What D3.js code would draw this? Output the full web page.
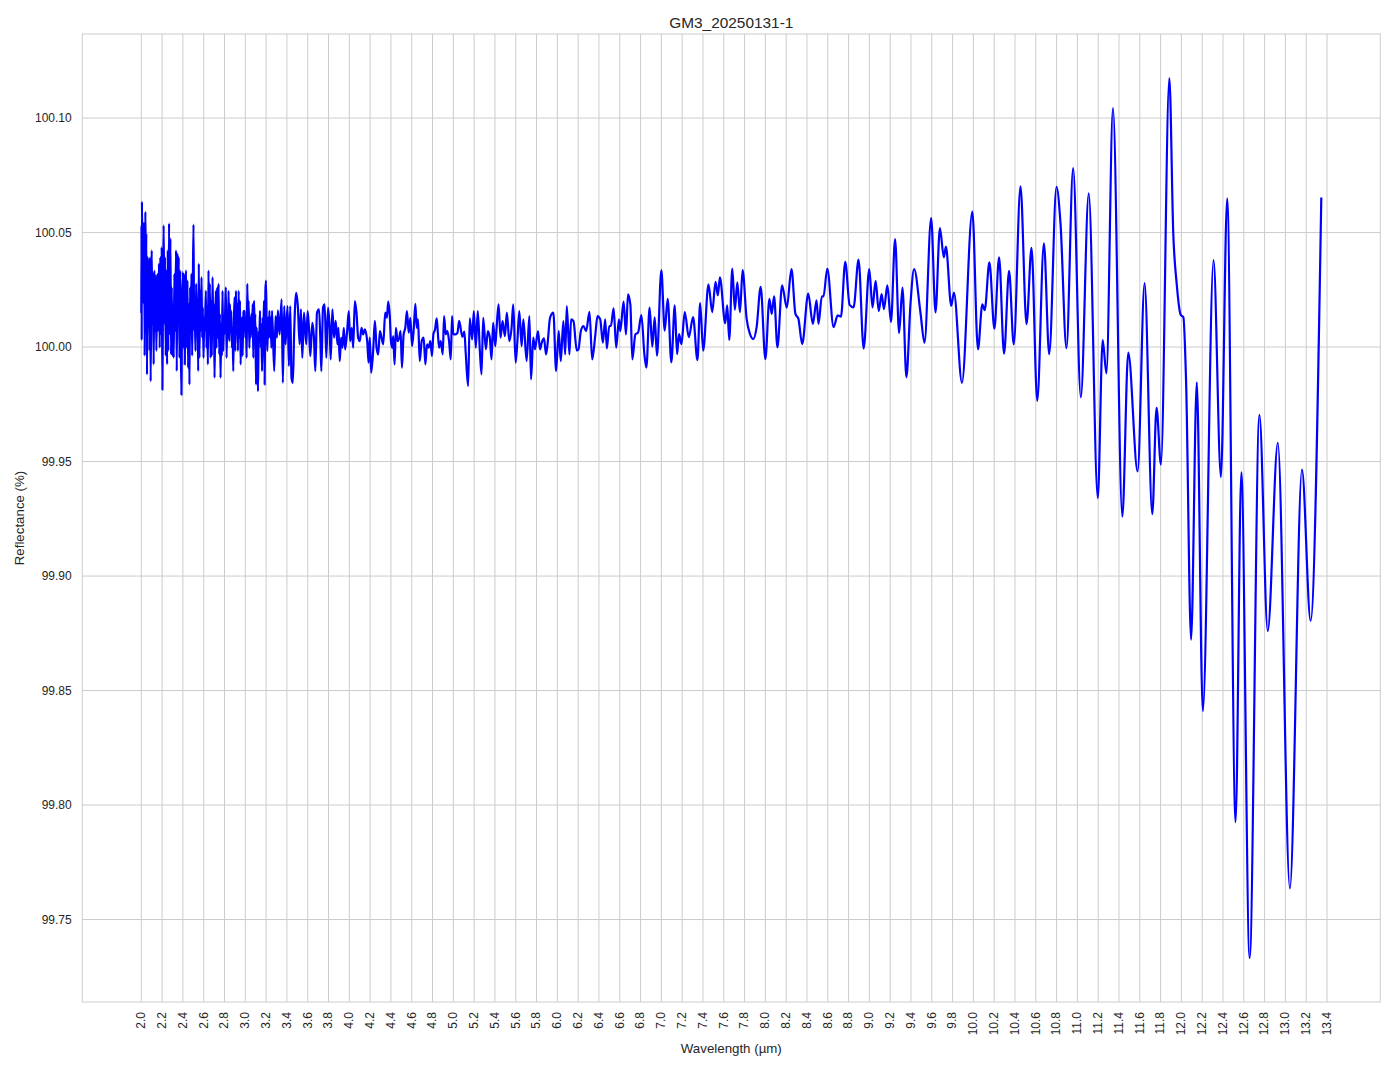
<!DOCTYPE html>
<html><head><meta charset="utf-8">
<script src="https://cdn.jsdelivr.net/npm/d3@7"></script>
<style>
body{margin:0;background:#fff}
svg{display:block}
text{font-family:"Liberation Sans",Arial,sans-serif;fill:#262626}
</style>
</head><body>
<svg id="chart" width="1394" height="1069"></svg>
<script>
const chartTitle = "GM3_20250131-1";
const xLabel = "Wavelength (µm)";
const yLabel = "Reflectance (%)";

const wlA = [2.000,2.002,2.004,2.006,2.013,2.016,2.022,2.029,2.032,2.039,2.045,2.048,2.055,2.061,2.068,2.074,2.080,2.084,2.090,2.100,2.106,2.113,2.119,2.125,2.132,2.138,2.145,2.154,2.161,2.170,2.177,2.183,2.190,2.196,2.203,2.209,2.215,2.222,2.228,2.235,2.241,2.248,2.254,2.260,2.267,2.273,2.280,2.286,2.293,2.299,2.305,2.312,2.318,2.325,2.334,2.341,2.347,2.354,2.360,2.367,2.373,2.379,2.386,2.392,2.399,2.405];
const rfA = [100.015,100.053,100.003,100.0635,100.0334,100.0547,100.0188,100.054,99.9962,100.0591,100.032,100.0496,99.988,100.0393,100.0202,100.0378,99.9983,100.0393,99.985,100.0422,100.010,100.032,99.9924,100.0334,100.0071,100.0312,99.9983,100.032,100.0071,100.0364,99.9997,100.0393,100.0056,100.0437,99.9814,100.0246,100.0532,100.010,100.0393,99.9962,100.0334,99.9924,100.0422,99.9983,100.054,100.0056,100.0474,99.9968,100.0261,99.9962,100.0129,99.9953,100.032,100.0071,100.0422,99.9895,100.0408,100.0129,100.0393,99.9953,100.0334,100.0056,99.9792,100.0158,100.0327,99.9997];

const wlB = [2.412,2.418,2.424,2.431,2.437,2.444,2.450,2.457,2.463,2.469,2.476,2.482,2.489,2.495,2.502,2.508,2.514,2.521,2.527,2.534,2.540,2.547,2.553,2.559,2.566,2.572,2.579,2.585,2.592,2.598,2.605,2.611,2.621,2.627,2.633,2.640,2.646,2.653,2.659,2.666,2.672,2.678,2.685,2.691,2.698,2.704,2.711,2.717,2.723,2.730,2.736,2.743,2.749,2.756,2.762,2.768,2.775,2.781,2.788,2.794,2.800,2.807,2.813,2.820,2.826,2.833,2.839,2.846,2.852,2.859,2.865,2.871,2.878,2.884,2.891,2.897,2.904,2.910,2.916,2.923,2.929,2.936,2.942,2.949,2.955,2.961,2.968,2.974,2.981,2.987,2.994,3.000,3.006,3.013,3.019,3.026,3.032,3.039,3.045,3.051,3.058,3.064,3.071,3.077,3.084,3.090,3.096,3.103,3.109,3.116,3.122,3.129,3.135,3.141,3.148,3.154,3.161,3.167,3.174,3.180,3.186,3.193,3.199,3.206,3.212,3.219,3.225,3.232,3.238,3.244,3.251,3.257];
const rfB = [100.032,99.9924,100.0246,100.0334,99.9997,100.029,99.9909,100.0188,99.9836,100.0261,100.0071,100.032,99.9962,100.0246,100.0535,100.0071,100.0173,99.9983,100.0276,100.010,100.0188,99.9895,100.0364,99.9953,100.0246,100.0071,100.0305,100.0041,100.0173,99.9953,100.0129,100.0071,100.0246,99.9997,100.0173,99.9924,100.0334,100.0056,100.0276,99.9953,100.0202,99.9962,100.0305,100.010,100.0188,99.9866,100.0129,100.0246,99.9997,100.0261,100.0041,100.0276,99.9968,100.0144,99.9866,100.010,99.9962,100.0246,99.9983,100.0129,100.0056,100.0173,100.0261,99.9953,100.0129,100.0041,100.0246,100.0026,100.0188,100.0071,100.0158,99.9997,100.0085,99.9895,100.0129,100.0217,99.9983,100.0246,100.0071,100.0188,99.9983,100.0246,100.0041,100.0202,99.9924,100.0071,100.0129,99.9962,100.0158,100.010,100.0158,100.0041,100.0114,99.9953,100.0276,100.0071,100.0202,99.9997,100.0129,100.0041,100.0144,100.0056,100.0188,99.9953,100.0202,100.0071,100.0144,99.9836,100.0085,99.9962,99.9807,100.0071,100.0041,100.0158,99.9997,100.010,99.9895,100.0129,100.0071,100.0202,99.9836,100.0246,100.029,100.0071,99.9983,100.0129,100.0041,100.0158,100.0041,100.0129,99.9997,100.0158];

const wlC = [3.278,3.291,3.304,3.313,3.330,3.349,3.361,3.374,3.387,3.406,3.419,3.432,3.444,3.457,3.470,3.489,3.506,3.522,3.535,3.548,3.564,3.586,3.599,3.612,3.625,3.644,3.660,3.673,3.689,3.709,3.722,3.731,3.747,3.763,3.779,3.795,3.812,3.821,3.837,3.853,3.869,3.886,3.895,3.908,3.921,3.934,3.947,3.960,3.979,3.995,4.008,4.024,4.037,4.053,4.069,4.085,4.101,4.117,4.133,4.149,4.172,4.185,4.197,4.210,4.230,4.246,4.262,4.278,4.294,4.310,4.326,4.345,4.361,4.374,4.390,4.400,4.413,4.422,4.435,4.448,4.464,4.480,4.493,4.506,4.522,4.538,4.554,4.571,4.587,4.603,4.619,4.635,4.648,4.660,4.677,4.696,4.715,4.731,4.747,4.763,4.779,4.795,4.808,4.824,4.840,4.850,4.863,4.879,4.898,4.911,4.927,4.943,4.959,4.975,4.988,5.000,5.020,5.040,5.056];
const rfC = [99.9895,100.0135,100.0041,100.016,100.0055,100.0208,99.9844,100.0179,100.0012,100.0179,99.9917,100.0179,99.9866,99.9844,100.007,100.0237,100.0172,100.0012,100.0165,99.9953,100.015,100.0012,100.0157,100.0084,99.9961,100.0106,100.0041,99.9895,100.015,100.0165,100.0026,99.9895,100.0172,100.0186,99.9953,100.0172,100.007,99.9946,100.0165,100.0041,100.0114,100.0012,100.0084,99.9939,100.0041,99.9997,100.0084,99.999,100.007,100.0157,100.0026,100.0084,99.9997,100.0201,100.015,100.0041,100.0026,100.0084,100.0055,100.0077,100.0026,99.9932,100.0041,99.9888,99.999,100.0114,99.9997,99.9968,100.007,100.0041,100.0012,100.015,100.0128,100.0198,100.0128,100.0026,99.9997,100.0048,99.9924,100.0084,100.0026,100.0041,100.007,99.991,100.0055,100.0084,100.0157,100.0063,100.0128,100.0004,100.0077,100.0189,100.0084,100.0121,99.9939,100.0026,100.0041,99.9924,100.0012,99.9997,100.0026,99.9961,100.0055,100.0077,100.0125,100.007,99.9997,100.0026,99.9968,100.0135,100.0055,100.007,100.0026,99.9946,100.0135,100.0055,100.0055,100.0063,100.0114];

const wlD = [5.087,5.106,5.119,5.142,5.158,5.181,5.197,5.216,5.235,5.255,5.271,5.287,5.313,5.332,5.351,5.367,5.383,5.403,5.415,5.435,5.454,5.473,5.496,5.515,5.538,5.560,5.576,5.599,5.615,5.634,5.657,5.673,5.705,5.731,5.747,5.769,5.785,5.814,5.833,5.850,5.872,5.891,5.904,5.930,5.962,5.988,6.013,6.033,6.058,6.075,6.091,6.116,6.132,6.155,6.187,6.203,6.226,6.251,6.277,6.309,6.335,6.364,6.386,6.412,6.438,6.460,6.476,6.499,6.515,6.541,6.566,6.592,6.605,6.637,6.660,6.679,6.702,6.721,6.750,6.776,6.808,6.837,6.856];
const rfD = [100.0044,100.0067,99.9975,99.983,100.0125,100.0033,100.0157,99.9997,100.0157,99.9983,99.9881,100.0128,99.999,100.007,100.0041,99.9946,100.0106,100.0004,100.0077,100.0186,100.0041,100.0113,100.0048,100.015,100.0026,100.0084,100.0186,99.9932,100.0019,100.0157,100.0004,100.0121,99.9939,100.0135,99.9859,100.0041,99.999,100.007,99.999,100.0019,100.0038,99.9968,100.0004,100.0128,100.015,99.9895,100.007,99.9939,100.0113,99.9968,100.0179,99.9968,100.0121,100.0113,99.9985,99.999,100.007,100.0092,100.007,100.0154,99.9946,100.0048,100.0135,100.0121,100.0019,100.0121,99.9994,100.0092,100.0092,100.0169,99.9997,100.0121,100.007,100.0198,100.0055,100.023,100.0186,99.9946,100.0055,100.0063,100.014,99.9968,99.991];

const wlE = [6.887,6.913,6.936,6.958,7.000,7.032,7.061,7.096,7.129,7.151,7.170,7.193,7.225,7.264,7.305,7.347,7.373,7.402,7.453,7.489,7.521,7.543,7.563,7.614,7.633,7.653,7.682,7.707,7.730,7.756,7.781,7.820,7.852,7.884,7.916,7.955,8.000,8.039,8.061,8.084,8.116,8.161,8.206,8.251,8.289,8.318,8.354,8.412,8.457,8.492,8.511,8.543,8.559,8.595,8.656,8.695,8.727,8.768];
const rfE = [100.0172,100.0002,100.013,99.9962,100.0336,100.0072,100.0211,99.9933,100.0182,99.9969,100.0057,100.0013,100.0153,100.0043,100.0131,99.9943,100.0192,99.9984,100.0274,100.0153,100.0285,100.0226,100.0304,100.0104,100.0182,100.0031,100.0343,100.0163,100.0283,100.0153,100.0336,100.0123,100.0057,100.0035,100.0087,100.0263,99.9947,100.0211,100.0145,100.0221,99.9999,100.027,100.0172,100.034,100.0145,100.0123,100.0013,100.0233,100.0101,100.0204,100.0101,100.0221,100.0221,100.0343,100.0087,100.0138,100.0133,100.0372];

const wlF = [8.810,8.848,8.896,8.945,8.999,9.030,9.060,9.090,9.118,9.140,9.173,9.208,9.247,9.286,9.318,9.356,9.395,9.430,9.491,9.530,9.594,9.636,9.678,9.716,9.736,9.787,9.813,9.890,9.990,10.044,10.086,10.109,10.154,10.202,10.247,10.295,10.343,10.388,10.453,10.511,10.559,10.614];
const rfF = [100.0184,100.0173,100.0382,99.9993,100.0341,100.0173,100.0289,100.0158,100.0231,100.0165,100.027,100.011,100.0472,100.0061,100.026,99.9868,100.0187,100.0341,100.0151,100.0019,100.0563,100.0151,100.052,100.0392,100.0439,100.018,100.0238,99.9844,100.0592,99.999,100.0187,100.0161,100.037,100.008,100.0392,99.9971,100.0333,100.0012,100.0702,100.010,100.0433,99.9765];

const wlG = [10.678,10.729,10.799,10.838,10.895,10.959,11.033,11.109,11.196,11.243,11.279,11.342,11.432,11.489,11.579,11.646,11.720,11.761,11.803,11.884,11.922,11.955,11.993,12.019,12.045,12.093,12.148,12.206,12.309,12.380,12.440,12.521,12.576,12.656,12.750,12.830,12.927,13.043,13.159,13.242,13.345];
const rfG = [100.0453,99.9969,100.070,100.0537,99.9995,100.0782,99.978,100.0671,99.934,100.003,99.9885,100.1044,99.9259,99.9976,99.9457,100.0279,99.927,99.9734,99.9487,100.1175,100.0493,100.0275,100.0141,100.013,99.985,99.8722,99.9846,99.841,100.038,99.9432,100.0649,99.7925,99.9453,99.7332,99.9704,99.876,99.9582,99.7636,99.9465,99.8805,100.0653];

const xTickLabels = ["2.0","2.2","2.4","2.6","2.8","3.0","3.2","3.4","3.6","3.8","4.0","4.2","4.4","4.6","4.8","5.0","5.2","5.4","5.6","5.8","6.0","6.2","6.4","6.6","6.8","7.0","7.2","7.4","7.6","7.8","8.0","8.2","8.4","8.6","8.8","9.0","9.2","9.4","9.6","9.8","10.0","10.2","10.4","10.6","10.8","11.0","11.2","11.4","11.6","11.8","12.0","12.2","12.4","12.6","12.8","13.0","13.2","13.4"];
const yTickLabels = ["99.75","99.80","99.85","99.90","99.95","100.00","100.05","100.10"];

const wavelength = [].concat(wlA, wlB, wlC, wlD, wlE, wlF, wlG);
const reflectance = [].concat(rfA, rfB, rfC, rfD, rfE, rfF, rfG);
const data = wavelength.map((w, i) => ({x: w, y: reflectance[i]}));

const W = 1394, H = 1069;
const plot = {left: 82.3, top: 34, right: 1380.3, bottom: 1002};

function padded(ext) { const p = (ext[1] - ext[0]) * 0.05; return [ext[0] - p, ext[1] + p]; }
const x = d3.scaleLinear().domain(padded(d3.extent(wavelength))).range([plot.left, plot.right]);
const y = d3.scaleLinear().domain(padded(d3.extent(reflectance))).range([plot.bottom, plot.top]);

const svg = d3.select("#chart");
svg.append("rect").attr("width", W).attr("height", H).attr("fill", "#fff");

const xTicks = xTickLabels.map(Number);
const yTicks = yTickLabels.map(Number);

// grid
const grid = svg.append("g").attr("stroke", "#cccccc").attr("stroke-width", 1);
grid.selectAll("line.v").data(xTicks).join("line").attr("class", "v")
  .attr("x1", d => x(d)).attr("x2", d => x(d)).attr("y1", plot.top).attr("y2", plot.bottom);
grid.selectAll("line.h").data(yTicks).join("line").attr("class", "h")
  .attr("y1", d => y(d)).attr("y2", d => y(d)).attr("x1", plot.left).attr("x2", plot.right);

// frame
svg.append("rect").attr("x", plot.left).attr("y", plot.top)
  .attr("width", plot.right - plot.left).attr("height", plot.bottom - plot.top)
  .attr("fill", "none").attr("stroke", "#cccccc").attr("stroke-width", 1);

// axes
const xAxis = svg.append("g").attr("transform", `translate(0,${plot.bottom})`)
  .call(d3.axisBottom(x).tickValues(xTicks).tickFormat((d, i) => xTickLabels[i]).tickSize(0));
xAxis.select(".domain").remove();
xAxis.selectAll("text")
  .attr("transform", "rotate(-90)").attr("x", -10).attr("y", 0).attr("dy", "0.28em")
  .attr("text-anchor", "end").style("font-size", "12px").attr("fill", "#262626");

const yAxis = svg.append("g").attr("transform", `translate(${plot.left},0)`)
  .call(d3.axisLeft(y).tickValues(yTicks).tickFormat((d, i) => yTickLabels[i]).tickSize(0).tickPadding(10.6));
yAxis.select(".domain").remove();
yAxis.selectAll("text").style("font-size", "12px").attr("fill", "#262626");

// line
const line = d3.line().x(d => x(d.x)).y(d => y(d.y)).curve(d3.curveMonotoneX);
svg.append("path").datum(data).attr("d", line)
  .attr("fill", "none").attr("stroke", "#0000ff").attr("stroke-width", 2.2).attr("stroke-linejoin", "round");

// labels
const cx = (plot.left + plot.right) / 2;
svg.append("text").attr("x", cx).attr("y", 27.7).attr("text-anchor", "middle")
  .style("font-size", "15.4px").text(chartTitle);
svg.append("text").attr("x", cx).attr("y", 1053).attr("text-anchor", "middle")
  .style("font-size", "13.3px").text(xLabel);
svg.append("text").attr("transform", `translate(24,${(plot.top + plot.bottom) / 2}) rotate(-90)`)
  .attr("text-anchor", "middle").style("font-size", "13.3px").text(yLabel);
</script>
</body></html>
